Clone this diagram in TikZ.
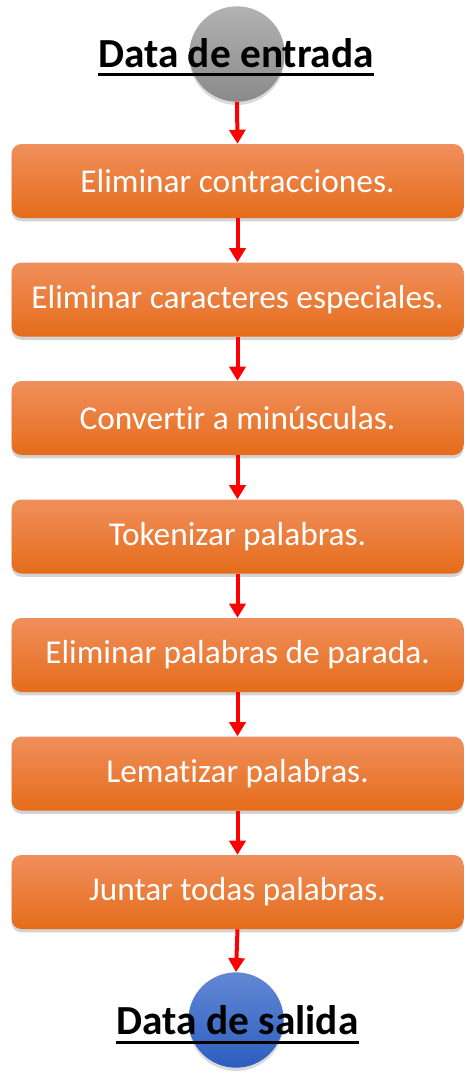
\documentclass[tikz,border=0pt]{standalone}
\usepackage{fontspec}
\setmainfont{Carlito}[Ligatures={NoCommon,NoRare}]
\usetikzlibrary{arrows.meta,shadows}
\definecolor{stepTop}{RGB}{240,143,92}
\definecolor{stepMid}{RGB}{244,127,44}
\definecolor{stepBot}{RGB}{229,108,26}
\definecolor{inTop}{RGB}{178,178,178}
\definecolor{inBot}{RGB}{138,138,138}
\definecolor{outTop}{RGB}{98,136,212}
\definecolor{outBot}{RGB}{44,94,190}
\definecolor{flowRed}{RGB}{255,0,0}
\tikzset{
  stepbox/.style={rounded corners=7.5pt,top color=stepTop,middle color=stepMid,bottom color=stepBot,
    minimum width=339pt,minimum height=55.5pt,inner sep=0pt,text=white,
    font=\fontsize{25}{28}\selectfont,
    drop shadow={opacity=0.35,shadow xshift=0pt,shadow yshift=-2.5pt}},
  endball/.style={circle,minimum size=71.5pt,inner sep=0pt,
    drop shadow={opacity=0.3,shadow xshift=0pt,shadow yshift=-2.5pt}},
  endtitle/.style={anchor=base,inner sep=0pt,font=\bfseries\fontsize{31}{36}\selectfont},
  flow/.style={draw=flowRed,line width=3pt,-{Triangle[length=10.5pt,width=12pt]}}
}
\begin{document}
\begin{tikzpicture}[x=0.75pt,y=-0.75pt]
\useasboundingbox (0,0) rectangle (474,1081);
% entrada y salida
\node[endball,top color=inTop,bottom color=inBot] (dataIn) at (237,54) {};
\node[endtitle] (titleIn) at (236,68) {Data de entrada};
\draw[line width=2.3pt] ([yshift=-5.2pt]titleIn.base west) -- ([yshift=-5.2pt]titleIn.base east);
% pasos
\node[stepbox] (step1) at (237.5,181) {Eliminar contracciones.};
\node[stepbox] (step2) at (237.5,299.5) {Eliminar caracteres especiales.};
\node[stepbox] (step3) at (237.5,418) {Convertir a minúsculas.};
\node[stepbox] (step4) at (237.5,536.5) {Tokenizar palabras.};
\node[stepbox] (step5) at (237.5,655) {Eliminar palabras de parada.};
\node[stepbox] (step6) at (237.5,773.5) {Lematizar palabras.};
\node[stepbox] (step7) at (237.5,892) {Juntar todas palabras.};
\node[endball,top color=outTop,bottom color=outBot] (dataOut) at (236,1020) {};
\node[endtitle] (titleOut) at (237.5,1034) {Data de salida};
\draw[line width=2.3pt] ([yshift=-6.5pt]titleOut.base west) -- ([yshift=-6.5pt]titleOut.base east);
% flechas
\draw[flow] (dataIn.south) -- (step1.north);
\draw[flow] (step1.south) -- (step2.north);
\draw[flow] (step2.south) -- (step3.north);
\draw[flow] (step3.south) -- (step4.north);
\draw[flow] (step4.south) -- (step5.north);
\draw[flow] (step5.south) -- (step6.north);
\draw[flow] (step6.south) -- (step7.north);
\draw[flow] (step7.south) -- (dataOut.north);
\end{tikzpicture}
\end{document}
